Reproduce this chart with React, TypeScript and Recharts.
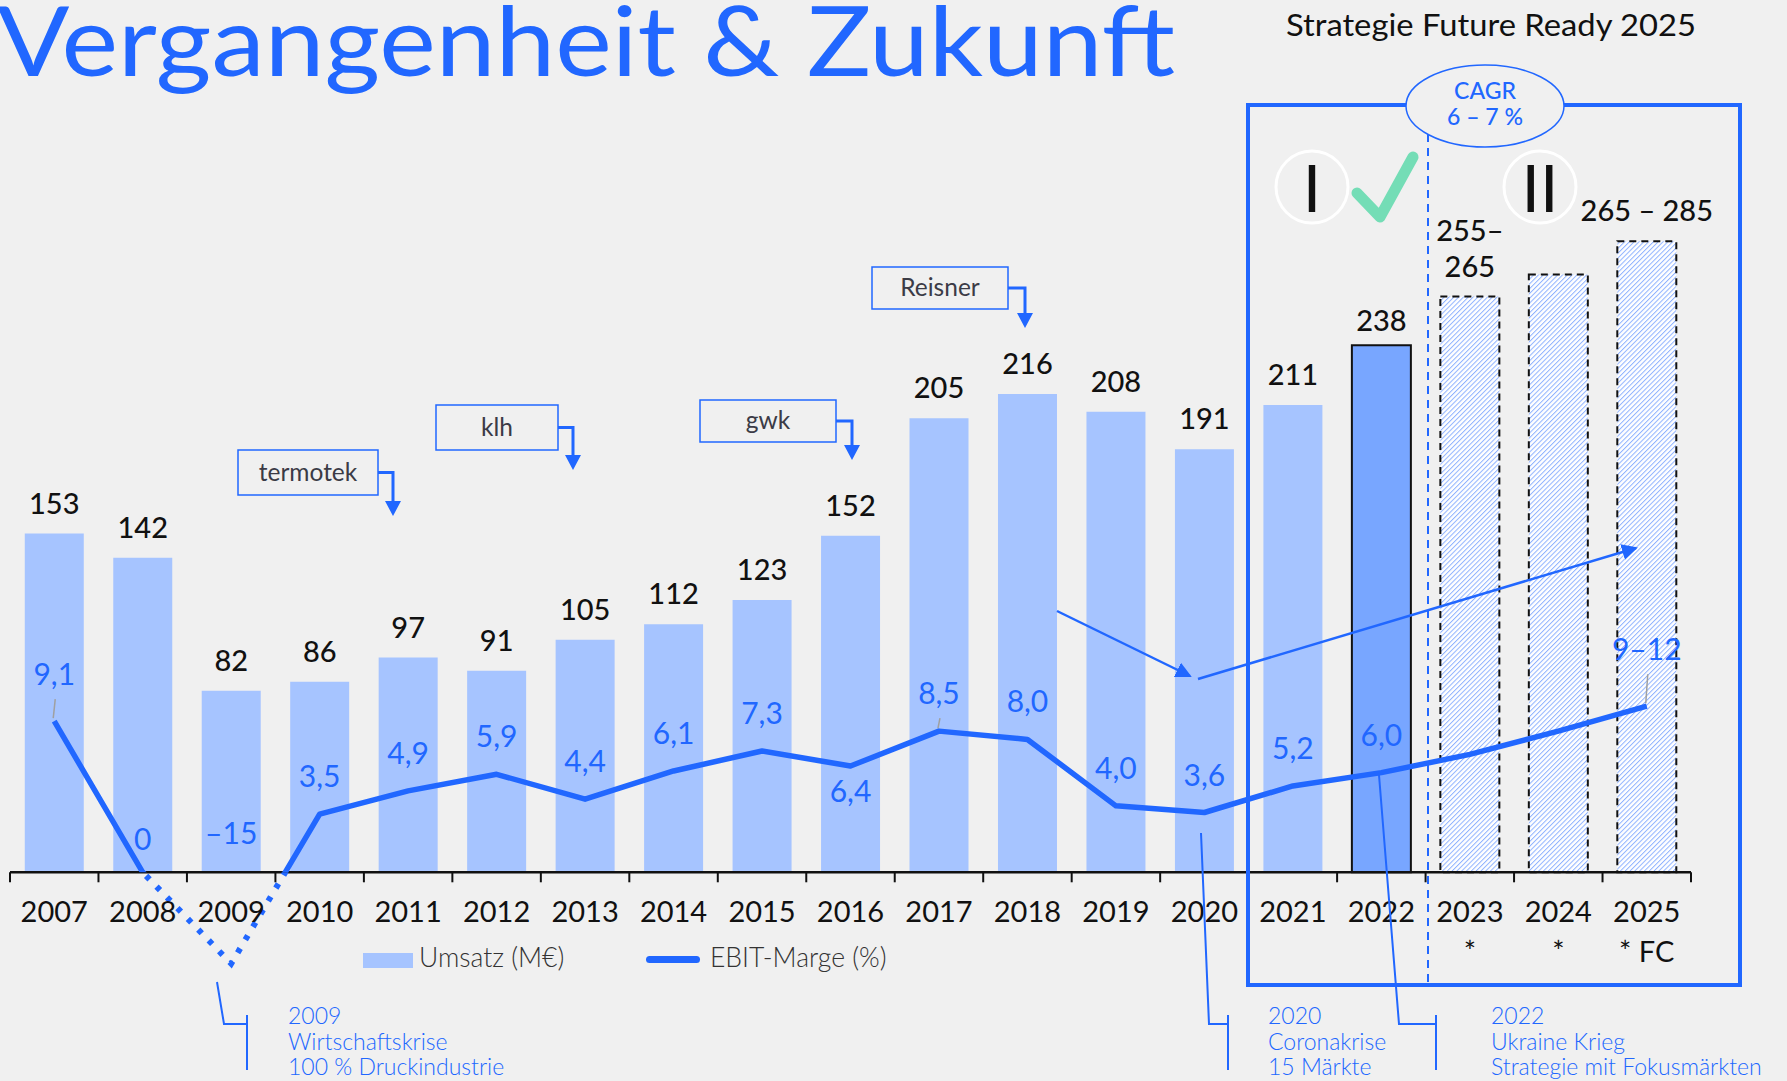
import React from 'react';
import { ComposedChart, Bar, Line, XAxis, YAxis, Cell, LabelList, Legend, ReferenceLine } from 'recharts';

// Umsatz (M€) und EBIT-Marge (%) je Jahr, 2023-2025 Planwerte
const years = ['2007', '2008', '2009', '2010', '2011', '2012', '2013', '2014', '2015', '2016', '2017', '2018', '2019', '2020', '2021', '2022', '2023', '2024', '2025'];
const umsatz = [153, 142, 82, 86, 97, 91, 105, 112, 123, 152, 205, 216, 208, 191, 211, 238, 260, 270, 285];
const umsatzLabels = ['153', '142', '82', '86', '97', '91', '105', '112', '123', '152', '205', '216', '208', '191', '211', '238', '255–\n265', '', '265 – 285'];
const ebitMarge = [9.1, 0, -15, 3.5, 4.9, 5.9, 4.4, 6.1, 7.3, 6.4, 8.5, 8.0, 4.0, 3.6, 5.2, 6.0, 7.1, 8.5, 10.0];
const ebitLabels = ['9,1', '0', '–15', '3,5', '4,9', '5,9', '4,4', '6,1', '7,3', '6,4', '8,5', '8,0', '4,0', '3,6', '5,2', '6,0', '', '', '9–12'];
const yearNotes = ['', '', '', '', '', '', '', '', '', '', '', '', '', '', '', '', '*', '*', '* FC'];

const W = 1787;
const H = 1081;
const MARGIN = { top: 208, right: 96, bottom: 68, left: 10 };
const X_AXIS_H = 30;
const PLOT_W = W - MARGIN.left - MARGIN.right;
const PLOT_H = H - MARGIN.top - MARGIN.bottom - X_AXIS_H;
const BAR_MIN = -50;
const BAR_MAX = 300;
const EBIT_MAX = 40;
const EBIT_MIN = (EBIT_MAX * BAR_MIN) / BAR_MAX;
const EBIT_FLOOR = -5.5; // crisis dip drawn shortened, as in the original
const ZERO_Y = MARGIN.top + (PLOT_H * BAR_MAX) / (BAR_MAX - BAR_MIN);
const BAND = PLOT_W / years.length;

const BLUE = '#2167FF';
const LIGHT = '#A6C4FF';
const MID = '#78A6FF';
const BG = '#F0F0F0';
const FONT = 'Lato, "Open Sans", sans-serif';

const data = years.map((year, i) => ({
  year,
  umsatz: umsatz[i],
  ebit: Math.max(ebitMarge[i], EBIT_FLOOR),
}));

const box = (p: any) => {
  const vb = p.viewBox || {};
  return {
    x: p.x ?? vb.x,
    y: p.y ?? vb.y,
    width: p.width ?? vb.width ?? 0,
  };
};

const YearTick = (props: any) => {
  const { x, payload, index } = props;
  const last = index === years.length - 1;
  return (
    <g>
      <line x1={x - BAND / 2} x2={x - BAND / 2} y1={ZERO_Y} y2={ZERO_Y + 10} stroke="#111" strokeWidth={2} />
      {last && <line x1={x + BAND / 2} x2={x + BAND / 2} y1={ZERO_Y} y2={ZERO_Y + 10} stroke="#111" strokeWidth={2} />}
      <text x={x} y={ZERO_Y + 50} textAnchor="middle" fontSize={29} fill="#111" fontFamily={FONT}>{payload.value}</text>
      {yearNotes[index] && (
        <text x={x} y={ZERO_Y + 90} textAnchor="middle" fontSize={29} fill="#111" fontFamily={FONT}>{yearNotes[index]}</text>
      )}
    </g>
  );
};

const BarLabel = (props: any) => {
  const { x, y, width } = box(props);
  const i = props.index;
  const txt = umsatzLabels[i];
  if (!txt) return null;
  const lines = txt.split('\n');
  const gap = years[i] === '2022' ? 14 : 20;
  return (
    <text x={x + width / 2} textAnchor="middle" fontSize={29} fontWeight={500} fill="#111" fontFamily={FONT}>
      {lines.map((l, k) => (
        <tspan key={k} x={x + width / 2} y={y - gap - (lines.length - 1 - k) * 36}>{l}</tspan>
      ))}
    </text>
  );
};

const LEADERS = new Set(['2007', '2017', '2025']);

const EbitLabel = (props: any) => {
  const { x, y } = box(props);
  const i = props.index;
  const txt = ebitLabels[i];
  if (!txt) return null;
  let base = y - 27;
  if (ebitMarge[i] === 0) base = ZERO_Y - 22;
  if (ebitMarge[i] < 0) base = ZERO_Y - 28;
  if (years[i] === '2007') base = y - 36;
  if (years[i] === '2016') base = y + 36;
  if (years[i] === '2025') base = y - 46;
  return (
    <g>
      {LEADERS.has(years[i]) && <line x1={x + 1} y1={base + 14} x2={x - 1} y2={y - 3} stroke="#A0A0A0" strokeWidth={1.5} />}
      <text x={x} y={base} textAnchor="middle" fontSize={30} fill={BLUE} fontFamily={FONT}>{txt}</text>
    </g>
  );
};

const LegendContent = () => (
  <div style={{ position: 'relative', width: 560, height: 34, fontFamily: FONT, fontSize: 26.5, fontWeight: 300, color: '#333', lineHeight: '30px' }}>
    <div style={{ position: 'absolute', left: 0, top: 11, width: 50, height: 15, background: LIGHT }} />
    <div style={{ position: 'absolute', left: 56, top: 0, whiteSpace: 'nowrap' }}>Umsatz (M€)</div>
    <div style={{ position: 'absolute', left: 283, top: 14, width: 54, height: 7, borderRadius: 4, background: BLUE }} />
    <div style={{ position: 'absolute', left: 347, top: 0, whiteSpace: 'nowrap' }}>EBIT-Marge (%)</div>
  </div>
);

const acquisitions = [
  { name: 'termotek', x: 238, y: 450, w: 140, h: 45, ax: 393, tip: 516 },
  { name: 'klh', x: 436, y: 405, w: 122, h: 45, ax: 573, tip: 470 },
  { name: 'gwk', x: 700, y: 400, w: 136, h: 42, ax: 852, tip: 460 },
  { name: 'Reisner', x: 872, y: 267, w: 136, h: 42, ax: 1025, tip: 328 },
];

const events = [
  { pts: '217,982 224,1024 247,1024', bx: 247, tx: 288, lines: ['2009', 'Wirtschaftskrise', '100 % Druckindustrie'] },
  { pts: '1201,833 1209,1024 1228,1024', bx: 1228, tx: 1268, lines: ['2020', 'Coronakrise', '15 Märkte'] },
  { pts: '1379,775 1399,1024 1436,1024', bx: 1436, tx: 1491, lines: ['2022', 'Ukraine Krieg', 'Strategie mit Fokusmärkten'] },
];

const Overlay = () => (
  <svg width={W} height={H} style={{ position: 'absolute', left: 0, top: 0, pointerEvents: 'none' }} fontFamily={FONT}>
    <defs>
      <marker id="arrowHead" markerWidth="18" markerHeight="18" refX="14" refY="8" orient="auto" markerUnits="userSpaceOnUse">
        <path d="M0,0 L16,8 L0,16 Z" fill={BLUE} />
      </marker>
    </defs>
    <text x={-3} y={76} fontSize={97} fill={BLUE} textLength={1178} lengthAdjust="spacingAndGlyphs">Vergangenheit &amp; Zukunft</text>
    <text x={1491} y={36} fontSize={30} fill="#111" textAnchor="middle" textLength={410} lengthAdjust="spacingAndGlyphs">Strategie Future Ready 2025</text>

    <rect x={1248} y={105} width={492} height={880} fill="none" stroke={BLUE} strokeWidth={4} />
    <line x1={1428} x2={1428} y1={134} y2={985} stroke={BLUE} strokeWidth={2} strokeDasharray="8 6" />
    <ellipse cx={1485} cy={106} rx={79} ry={41} fill={BG} stroke={BLUE} strokeWidth={1.5} />
    <text x={1485} y={99} fontSize={23} fontWeight={500} fill={BLUE} textAnchor="middle">CAGR</text>
    <text x={1485} y={125} fontSize={23} fontWeight={500} fill={BLUE} textAnchor="middle">6 – 7 %</text>

    <circle cx={1312} cy={187} r={36} fill="none" stroke="#FFFFFF" strokeWidth={3} />
    <text x={1312} y={212} fontSize={66} fill="#111" textAnchor="middle">I</text>
    <polyline points="1357,193 1380,217 1413,157" fill="none" stroke="#74DDB6" strokeWidth={11} strokeLinecap="round" strokeLinejoin="round" />
    <circle cx={1540} cy={187} r={36} fill="none" stroke="#FFFFFF" strokeWidth={3} />
    <text x={1540} y={212} fontSize={66} fill="#111" textAnchor="middle">II</text>

    {acquisitions.map((a) => (
      <g key={a.name}>
        <rect x={a.x} y={a.y} width={a.w} height={a.h} fill={BG} stroke={BLUE} strokeWidth={1.5} />
        <text x={a.x + a.w / 2} y={a.y + a.h / 2 + 8} fontSize={24.5} fill="#3B3B46" textAnchor="middle">{a.name}</text>
        <path d={`M${a.x + a.w},${a.y + a.h / 2} H${a.ax} V${a.tip - 14}`} fill="none" stroke={BLUE} strokeWidth={3} />
        <polygon points={`${a.ax - 8},${a.tip - 15} ${a.ax + 8},${a.tip - 15} ${a.ax},${a.tip}`} fill={BLUE} />
      </g>
    ))}

    <line x1={1057} y1={611} x2={1190} y2={676} stroke={BLUE} strokeWidth={2.5} markerEnd="url(#arrowHead)" />
    <line x1={1198} y1={679} x2={1636} y2={548} stroke={BLUE} strokeWidth={2.5} markerEnd="url(#arrowHead)" />

    {events.map((e) => (
      <g key={e.lines[0]}>
        <polyline points={e.pts} fill="none" stroke={BLUE} strokeWidth={2} />
        <line x1={e.bx} x2={e.bx} y1={1015} y2={1070} stroke={BLUE} strokeWidth={2} />
        {e.lines.map((l, k) => (
          <text key={k} x={e.tx} y={1024 + k * 25.5} fontSize={23} fontWeight={300} fill={BLUE}>{l}</text>
        ))}
      </g>
    ))}
  </svg>
);

export default function App() {
  return (
    <div style={{ position: 'absolute', left: 0, top: 0, width: W, height: H, background: BG, fontFamily: FONT, overflow: 'hidden' }}>
      <style>{'.ebit-solid{clip-path:url(#ebitAbove)}.ebit-dotted{clip-path:url(#ebitBelow)}'}</style>
      <svg width={0} height={0} style={{ position: 'absolute' }}>
        <defs>
          <pattern id="hatch" width="3.4" height="3.4" patternUnits="userSpaceOnUse" patternTransform="rotate(45)">
            <rect width="3.4" height="3.4" fill="#FFFFFF" />
            <line x1="0" y1="0" x2="0" y2="3.4" stroke="#8FB2FF" strokeWidth="2" />
          </pattern>
          <clipPath id="ebitAbove" clipPathUnits="userSpaceOnUse">
            <rect x={0} y={0} width={W} height={ZERO_Y} />
          </clipPath>
          <clipPath id="ebitBelow" clipPathUnits="userSpaceOnUse">
            <rect x={0} y={ZERO_Y} width={W} height={H - ZERO_Y} />
          </clipPath>
        </defs>
      </svg>
      <ComposedChart width={W} height={H} data={data} margin={MARGIN} barCategoryGap="16.7%">
        <XAxis dataKey="year" height={X_AXIS_H} interval={0} axisLine={false} tickLine={false} tick={(p: any) => <YearTick {...p} />} />
        <YAxis yAxisId="bar" hide domain={[BAR_MIN, BAR_MAX]} />
        <YAxis yAxisId="ebit" hide domain={[EBIT_MIN, EBIT_MAX]} orientation="right" />
        <Bar yAxisId="bar" dataKey="umsatz" isAnimationActive={false}>
          {data.map((d) => {
            const y = Number(d.year);
            if (y < 2022) return <Cell key={d.year} fill={LIGHT} />;
            if (y === 2022) return <Cell key={d.year} fill={MID} stroke="#111" strokeWidth={2} />;
            return <Cell key={d.year} fill="url(#hatch)" stroke="#111" strokeWidth={2} strokeDasharray="7 5" />;
          })}
          <LabelList dataKey="umsatz" content={(p: any) => <BarLabel {...p} />} />
        </Bar>
        <ReferenceLine yAxisId="bar" y={0} stroke="#111" strokeWidth={2.5} />
        <Line yAxisId="ebit" className="ebit-solid" type="linear" dataKey="ebit" stroke={BLUE} strokeWidth={5.5} strokeLinejoin="round" dot={false} activeDot={false} isAnimationActive={false} />
        <Line yAxisId="ebit" className="ebit-dotted" type="linear" dataKey="ebit" stroke={BLUE} strokeWidth={6} strokeDasharray="5 10" dot={false} activeDot={false} isAnimationActive={false} />
        <Line yAxisId="ebit" type="linear" dataKey="ebit" stroke="none" dot={false} activeDot={false} isAnimationActive={false} legendType="none">
          <LabelList dataKey="ebit" content={(p: any) => <EbitLabel {...p} />} />
        </Line>
        <Legend layout="horizontal" verticalAlign="middle" align="center" content={() => <LegendContent />} wrapperStyle={{ position: 'absolute', left: 363, top: 942, width: 560, height: 34 }} />
      </ComposedChart>
      <Overlay />
    </div>
  );
}
